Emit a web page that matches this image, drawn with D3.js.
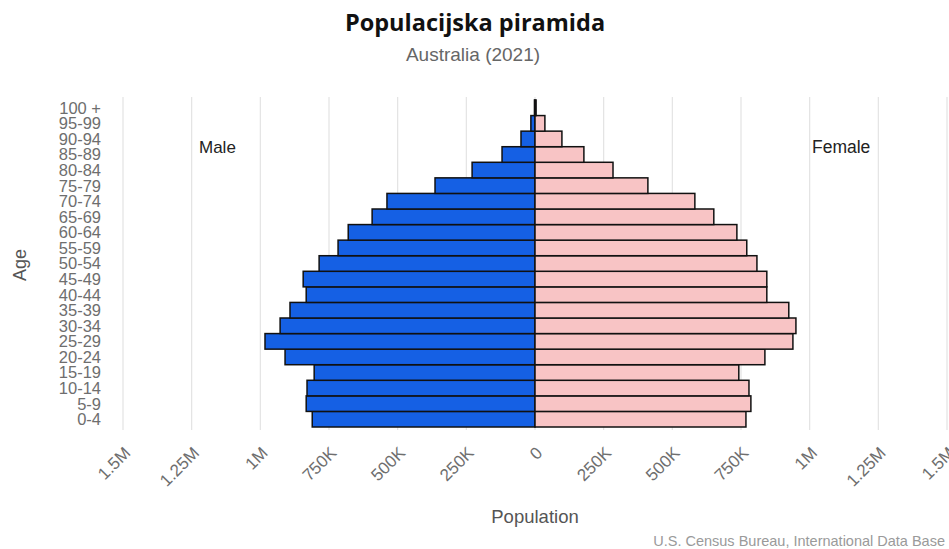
<!DOCTYPE html>
<html>
<head>
<meta charset="utf-8">
<script src="https://cdn.jsdelivr.net/npm/d3@7"></script>
<style>
  body { margin: 0; background: #fff; }
  text { font-family: "Liberation Sans", Arial, sans-serif; }
</style>
</head>
<body>
<div id="pyramid"></div>
<script>
// age groups, bottom to top
const ageGroups = ["0-4", "5-9", "10-14", "15-19", "20-24", "25-29", "30-34", "35-39", "40-44", "45-49",
  "50-54", "55-59", "60-64", "65-69", "70-74", "75-79", "80-84", "85-89", "90-94", "95-99", "100 +"]

// population in thousands
const maleValues = [811, 833, 830, 804, 910, 983, 928, 892, 833, 844,
  786, 717, 680, 593, 539, 364, 229, 120, 51, 15, 2]
const femaleValues = [768, 786, 779, 742, 837, 939, 950, 924, 844, 844,
  808, 771, 735, 651, 582, 411, 284, 178, 98, 36, 4]

const xTicks = [-1500, -1250, -1000, -750, -500, -250, 0, 250, 500, 750, 1000, 1250, 1500]

function drawPyramid() {

  const data = ageGroups.map((age, i) => ({ age, male: maleValues[i], female: femaleValues[i] }))

  let dimensions = {
    width: 949,
    height: 549,
    margin: { top: 100, right: 2, bottom: 122, left: 123 },
  }
  dimensions.boundedWidth = dimensions.width - dimensions.margin.left - dimensions.margin.right
  dimensions.boundedHeight = dimensions.height - dimensions.margin.top - dimensions.margin.bottom

  const wrapper = d3.select("#pyramid")
    .append("svg")
      .attr("width", dimensions.width)
      .attr("height", dimensions.height)

  const bounds = wrapper.append("g")
    .attr("transform", `translate(${dimensions.margin.left},${dimensions.margin.top})`)

  // scales
  const xScale = d3.scaleLinear()
    .domain([-1500, 1500])
    .range([0, dimensions.boundedWidth])

  const yScale = d3.scaleBand()
    .domain(ageGroups)
    .range([dimensions.boundedHeight, 0])
    .padding(0)

  // grid lines
  bounds.append("g")
    .selectAll("line")
    .data(xTicks)
    .join("line")
      .attr("x1", d => xScale(d))
      .attr("x2", d => xScale(d))
      .attr("y1", -3)
      .attr("y2", dimensions.boundedHeight + 3)
      .attr("stroke", "#e3e3e3")
      .attr("stroke-width", 1.2)

  // bars
  bounds.append("g").selectAll("rect")
    .data(data)
    .join("rect")
      .attr("x", d => xScale(-d.male))
      .attr("y", d => yScale(d.age))
      .attr("width", d => xScale(0) - xScale(-d.male))
      .attr("height", yScale.bandwidth())
      .attr("fill", "#1560e4")
      .attr("stroke", "#111")
      .attr("stroke-width", 1.5)

  bounds.append("g").selectAll("rect")
    .data(data)
    .join("rect")
      .attr("x", xScale(0))
      .attr("y", d => yScale(d.age))
      .attr("width", d => xScale(d.female) - xScale(0))
      .attr("height", yScale.bandwidth())
      .attr("fill", "#f8c4c5")
      .attr("stroke", "#111")
      .attr("stroke-width", 1.5)

  // y axis labels (crammed like the original)
  const yAxis = bounds.append("g")
    .call(d3.axisLeft(yScale).tickSize(0).tickPadding(22))
  yAxis.select(".domain").remove()
  yAxis.selectAll("text")
    .attr("fill", "#6e6e6e")
    .style("font-size", "16.5px")
    .attr("dy", "0.36em")

  // x axis labels, rotated
  const xAxis = bounds.append("g")
    .attr("transform", `translate(0,${dimensions.boundedHeight})`)
    .call(d3.axisBottom(xScale)
      .tickValues(xTicks)
      .tickSize(0)
      .tickFormat(d => {
        const a = Math.abs(d)
        return a >= 1000 ? d3.format("~")(a / 1000) + "M" : a === 0 ? "0" : a + "K"
      }))
  xAxis.select(".domain").remove()
  xAxis.selectAll("text")
    .attr("fill", "#6e6e6e")
    .style("font-size", "17px")
    .attr("text-anchor", "end")
    .attr("y", 0)
    .attr("dy", 0)
    .attr("transform", "translate(8,27) rotate(-45)")

  // titles and labels
  wrapper.append("text")
    .attr("x", 475)
    .attr("y", 31)
    .attr("text-anchor", "middle")
    .style("font-family", "'Open Sans', Lato, sans-serif")
    .style("font-weight", "bold")
    .style("font-size", "23.5px")
    .attr("fill", "#111")
    .text("Populacijska piramida")

  wrapper.append("text")
    .attr("x", 473)
    .attr("y", 61)
    .attr("text-anchor", "middle")
    .style("font-size", "19px")
    .attr("fill", "#666")
    .text("Australia (2021)")

  wrapper.append("text")
    .attr("x", 199)
    .attr("y", 153)
    .style("font-size", "17px")
    .attr("fill", "#222")
    .text("Male")

  wrapper.append("text")
    .attr("x", 812)
    .attr("y", 153)
    .style("font-size", "17.5px")
    .attr("fill", "#222")
    .text("Female")

  wrapper.append("text")
    .attr("transform", "translate(26,265) rotate(-90)")
    .attr("text-anchor", "middle")
    .style("font-size", "18px")
    .attr("fill", "#555")
    .text("Age")

  wrapper.append("text")
    .attr("x", 535)
    .attr("y", 523)
    .attr("text-anchor", "middle")
    .style("font-size", "18.5px")
    .attr("fill", "#555")
    .text("Population")

  wrapper.append("text")
    .attr("x", 945)
    .attr("y", 546)
    .attr("text-anchor", "end")
    .style("font-size", "14.5px")
    .attr("fill", "#9a9a9a")
    .text("U.S. Census Bureau, International Data Base")
}

drawPyramid()
</script>
</body>
</html>
